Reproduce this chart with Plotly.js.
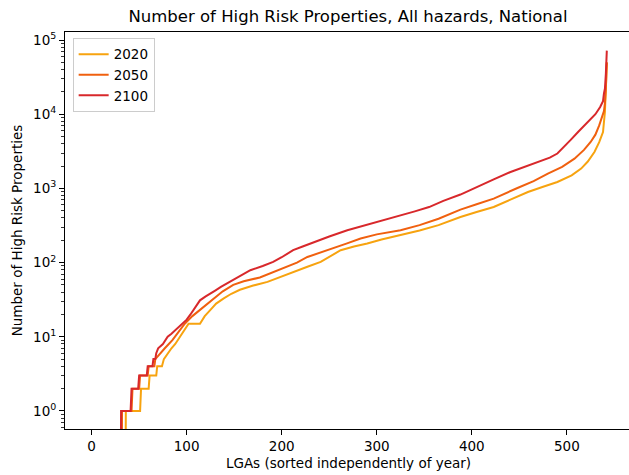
<!DOCTYPE html>
<html>
<head>
<meta charset="utf-8">
<script src="https://cdn.plot.ly/plotly-3.0.1.min.js"></script>
<style>
  html, body { margin: 0; padding: 0; background: #fff; overflow: hidden; }
  #chart { width: 640px; height: 475px; }
</style>
</head>
<body>
<div id="chart"></div>
<script>
// Number of high-risk properties per LGA, each year sorted ascending.
// Ranks are LGA positions (0..542) after sorting; counts are properties.
const rank2020 = [0, 35, 36, 51, 52, 60, 61, 68, 69, 74, 76, 80, 84, 88, 93, 98, 102, 114, 119, 125, 131, 139, 147, 156, 170, 185, 198, 213, 227, 241, 252, 262, 276, 290, 305, 325, 345, 365, 388, 405, 423, 440, 459, 475, 490, 505, 515, 522, 529, 534, 538, 540, 541, 542];
const count2020 = [0, 0, 1, 1, 2, 2, 3, 3, 4, 4, 5, 6, 7, 8, 10, 13, 15, 15, 19, 23, 28, 33, 38, 43, 49, 55, 64, 75, 88, 102, 125, 147, 165, 181, 205, 234, 270, 320, 412, 480, 562, 700, 894, 1050, 1220, 1500, 1850, 2300, 3090, 4200, 5740, 10700, 20000, 50000];

const rank2050 = [0, 31, 32, 42, 43, 50, 51, 59, 60, 66, 67, 72, 77, 85, 92, 98, 106, 114, 121, 128, 138, 149, 160, 177, 190, 206, 216, 227, 240, 255, 268, 283, 300, 325, 345, 365, 388, 405, 423, 448, 465, 480, 495, 508, 518, 525, 530, 534, 537, 539, 540, 541, 542];
const count2050 = [0, 0, 1, 1, 2, 2, 3, 3, 4, 4, 5, 6, 7, 9, 12, 15, 19, 23, 28, 33, 41, 50, 56, 63, 73, 88, 100, 119, 135, 155, 180, 211, 240, 273, 320, 390, 518, 610, 728, 1013, 1250, 1580, 1950, 2520, 3300, 4220, 5300, 7070, 9000, 11000, 14000, 22000, 50000];

const rank2100 = [0, 30, 31, 41, 42, 49, 50, 58, 59, 64, 65, 67, 68, 70, 75, 80, 84, 90, 95, 100, 104, 110, 114, 120, 125, 130, 136, 142, 150, 158, 167, 180, 191, 200, 212, 222, 234, 250, 269, 283, 297, 310, 325, 340, 355, 370, 388, 405, 423, 440, 459, 470, 482, 490, 497, 504, 512, 518, 524, 530, 535, 538, 539, 540, 541, 542];
const count2100 = [0, 0, 1, 1, 2, 2, 3, 3, 4, 4, 5, 5, 6, 7, 8, 10, 11, 13, 15, 17, 20, 26, 31, 35, 38, 42, 47, 52, 60, 69, 79, 90, 102, 118, 147, 165, 190, 225, 273, 305, 342, 385, 435, 490, 560, 680, 826, 1050, 1325, 1650, 2046, 2300, 2600, 2950, 3600, 4500, 5800, 6900, 8300, 10000, 12500, 15000, 19000, 22000, 35000, 72000];

const years = ['2020', '2050', '2100'];
const yearColors = ['#f7a30f', '#f0600f', '#d8282b'];

// Zero counts have no place on a log axis; push them far below the
// visible range so the rise from zero shows as a line from the bottom edge.
const ZERO_FLOOR = 1e-3;
const onLog = arr => arr.map(v => (v > 0 ? v : ZERO_FLOOR));

const series = [[rank2020, count2020], [rank2050, count2050], [rank2100, count2100]];
const traces = series.map(([xs, ys], i) => ({
  type: 'scatter',
  mode: 'lines',
  name: years[i],
  x: xs,
  y: onLog(ys),
  line: { color: yearColors[i], width: 2 }
}));

// Minor ticks at 2..9 within each decade
const minorVals = [];
for (let e = -1; e <= 5; e++) for (let m = 2; m <= 9; m++) minorVals.push(m * Math.pow(10, e));

const font = { family: 'DejaVu Sans, sans-serif', color: '#000' };

const layout = {
  width: 640,
  height: 475,
  margin: { l: 65, r: 8, t: 32, b: 46, pad: 0 },
  paper_bgcolor: '#fff',
  plot_bgcolor: '#fff',
  font: Object.assign({ size: 13.5 }, font),
  title: {
    text: 'Number of High Risk Properties, All hazards, National',
    font: Object.assign({ size: 16.5 }, font),
    x: 348 / 640, xanchor: 'center',
    y: 1 - 16 / 475, yanchor: 'middle', yref: 'container'
  },
  showlegend: true,
  legend: {
    x: 0.0135, y: 0.985, xanchor: 'left', yanchor: 'top',
    bgcolor: 'rgba(255,255,255,0.8)',
    bordercolor: '#cccccc', borderwidth: 1,
    font: Object.assign({ size: 13.5 }, font),
    itemwidth: 30,
    tracegroupgap: 0
  },
  xaxis: {
    range: [-28, 568.5],
    tick0: 0, dtick: 100,
    showgrid: false, zeroline: false,
    showline: true, linecolor: '#000', linewidth: 1, mirror: true,
    ticks: 'outside', ticklen: 5, tickwidth: 1, tickcolor: '#000',
    tickfont: Object.assign({ size: 13.5 }, font),
    title: { text: 'LGAs (sorted independently of year)', font: Object.assign({ size: 13.5 }, font), standoff: 5 }
  },
  yaxis: {
    type: 'log',
    range: [-0.243, 5.108],
    tickvals: [1, 10, 100, 1e3, 1e4, 1e5],
    ticktext: ['10<sup>0</sup>', '10<sup>1</sup>', '10<sup>2</sup>', '10<sup>3</sup>', '10<sup>4</sup>', '10<sup>5</sup>'],
    showgrid: false, zeroline: false,
    showline: true, linecolor: '#000', linewidth: 1, mirror: true,
    ticks: 'outside', ticklen: 5, tickwidth: 1, tickcolor: '#000',
    tickfont: Object.assign({ size: 13.5 }, font),
    minor: { tickvals: minorVals, ticks: 'outside', ticklen: 3, tickwidth: 0.8, tickcolor: '#000', showgrid: false },
    title: { text: 'Number of High Risk Properties', font: Object.assign({ size: 13.5 }, font), standoff: 7 }
  }
};

Plotly.newPlot('chart', traces, layout, { displayModeBar: false, staticPlot: true });
</script>
</body>
</html>
